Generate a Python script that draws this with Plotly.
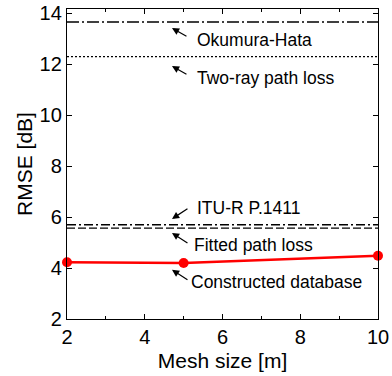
import plotly.graph_objects as go

mesh = [2, 5, 10]
rmse_db = [4.23, 4.20, 4.48]
okumura = 13.66
two_ray = 12.30
itu = 5.70
fitted = 5.57
xr = [2, 10]

labels = ["Okumura-Hata", "Two-ray path loss", "ITU-R P.1411", "Fitted path loss", "Constructed database"]
arrow_heads_y = [13.42, 11.93, 5.93, 5.38, 3.93]
text_y = [12.95, 11.46, 6.37, 4.91, 3.46]

fig = go.Figure()
black = "black"
fig.add_trace(go.Scatter(x=xr, y=[okumura]*2, mode="lines",
                         line=dict(color=black, width=1.3, dash="12px,3px,2px,3px")))
fig.add_trace(go.Scatter(x=xr, y=[two_ray]*2, mode="lines",
                         line=dict(color=black, width=1.3, dash="2px,2px")))
fig.add_trace(go.Scatter(x=xr, y=[itu]*2, mode="lines",
                         line=dict(color=black, width=1.3, dash="9px,3px,2px,3px")))
fig.add_trace(go.Scatter(x=xr, y=[fitted]*2, mode="lines",
                         line=dict(color=black, width=1.3, dash="8px,3px")))
fig.add_trace(go.Scatter(x=mesh, y=rmse_db, mode="lines+markers", cliponaxis=False,
                         line=dict(color="#ff0000", width=2.5),
                         marker=dict(color="#ff0000", size=10)))

offsets = [(16, 9), (16, 9), (17, -11), (17, 11), (17, 11)]
text_x = [5.29, 5.29, 5.29, 5.22, 5.14]
for lab, hy, ty, (ax, ay), tx in zip(labels, arrow_heads_y, text_y, offsets, text_x):
    fig.add_annotation(x=4.70, y=hy, ax=ax, ay=ay, text="", showarrow=True,
                       arrowhead=2, arrowsize=1.2, arrowwidth=1.2, arrowcolor=black)
    fig.add_annotation(x=tx, y=ty, text=lab, showarrow=False, xanchor="left",
                       yanchor="middle", font=dict(size=17.5, color=black))

axis_common = dict(showline=True, linecolor=black, linewidth=1.3, mirror="ticks",
                   ticks="inside", ticklen=5, tickcolor=black, tickwidth=1.2,
                   showgrid=False, zeroline=False, automargin=False,
                   tickfont=dict(size=20, color=black))
fig.update_xaxes(range=[2, 10], tickvals=[2, 4, 6, 8, 10],
                 minor=dict(ticks="inside", ticklen=3, tickvals=[3, 5, 7, 9], tickcolor=black),
                 title=dict(text="Mesh size [m]", font=dict(size=21, color=black), standoff=6),
                 **axis_common)
fig.update_yaxes(range=[2, 14.17], tickvals=[2, 4, 6, 8, 10, 12, 14],
                 title=dict(text="RMSE [dB]", font=dict(size=21, color=black), standoff=1),
                 **axis_common)
fig.update_layout(width=392, height=376, margin=dict(l=67, r=14, t=9, b=57),
                  paper_bgcolor="white", plot_bgcolor="white", showlegend=False,
                  font=dict(family="Liberation Sans, Arial, sans-serif", color=black))
fig.write_html("out.html")
